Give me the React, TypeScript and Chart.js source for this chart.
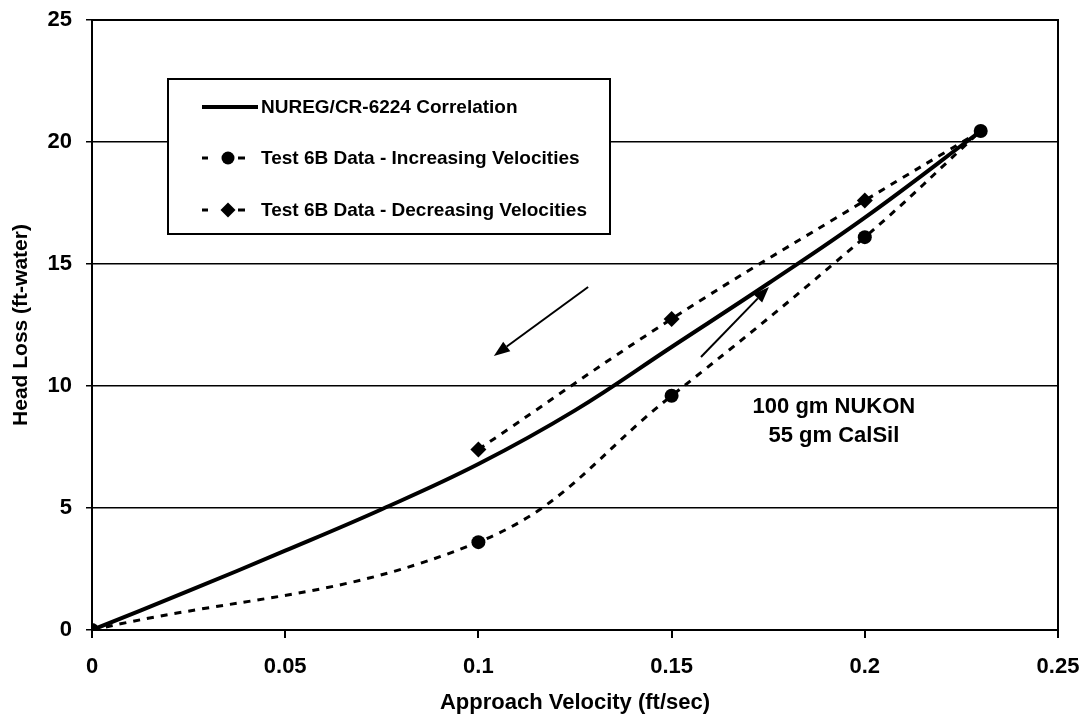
import React, { useEffect, useRef } from "react";
import { Chart, registerables } from "chart.js";

Chart.register(...registerables);

const FONT = "'Liberation Sans', Arial, Helvetica, sans-serif";

// ---- data ----
const xTickLabels = ["0", "0.05", "0.1", "0.15", "0.2", "0.25"];
const yTickLabels = ["0", "5", "10", "15", "20", "25"];

const velocityCorrelation = [0, 0.025, 0.05, 0.075, 0.1, 0.125, 0.15, 0.175, 0.2, 0.23];
const headLossCorrelation = [0, 1.6, 3.25, 4.95, 6.8, 9.0, 11.6, 14.2, 16.9, 20.45];

const velocityIncreasing = [0, 0.1, 0.15, 0.2, 0.23];
const headLossIncreasing = [0, 3.6, 9.6, 16.1, 20.45];

const velocityDecreasing = [0.23, 0.2, 0.15, 0.1];
const headLossDecreasing = [20.45, 17.6, 12.75, 7.4];

const seriesNames = [
  "NUREG/CR-6224 Correlation",
  "Test 6B Data - Increasing Velocities",
  "Test 6B Data - Decreasing Velocities",
];

const annotationLines = ["100 gm NUKON", "55 gm CalSil"];
const annotationAnchor = { x: 0.192, y: 9.15 }; // data units, first line centre

// arrows: [tailX, tailY, tipX, tipY] in data units
const arrowDecreasing = [0.1284, 14.06, 0.104, 11.23];
const arrowIncreasing = [0.1576, 11.19, 0.1752, 14.06];

const xAxisTitle = "Approach Velocity (ft/sec)";
const yAxisTitle = "Head Loss (ft-water)";

const toPoints = (xs: number[], ys: number[]) => xs.map((x, i) => ({ x, y: ys[i] }));

const framePlugin = {
  id: "frame",
  afterDraw(chart: any) {
    const { ctx, chartArea } = chart;
    ctx.save();
    ctx.strokeStyle = "#000";
    ctx.lineWidth = 2;
    ctx.strokeRect(chartArea.left, chartArea.top, chartArea.right - chartArea.left, chartArea.bottom - chartArea.top);
    ctx.restore();
  },
};

function drawArrow(ctx: CanvasRenderingContext2D, x1: number, y1: number, x2: number, y2: number) {
  const ang = Math.atan2(y2 - y1, x2 - x1);
  const headLen = 16;
  const headHalf = 6;
  const bx = x2 - headLen * Math.cos(ang);
  const by = y2 - headLen * Math.sin(ang);
  ctx.beginPath();
  ctx.moveTo(x1, y1);
  ctx.lineTo(bx, by);
  ctx.lineWidth = 2;
  ctx.strokeStyle = "#000";
  ctx.stroke();
  ctx.beginPath();
  ctx.moveTo(x2, y2);
  ctx.lineTo(bx + headHalf * Math.sin(ang), by - headHalf * Math.cos(ang));
  ctx.lineTo(bx - headHalf * Math.sin(ang), by + headHalf * Math.cos(ang));
  ctx.closePath();
  ctx.fillStyle = "#000";
  ctx.fill();
}

const annotationPlugin = {
  id: "annotations",
  afterDatasetsDraw(chart: any) {
    const { ctx, scales } = chart;
    const xs = scales.x;
    const ys = scales.y;
    ctx.save();
    for (const a of [arrowDecreasing, arrowIncreasing]) {
      drawArrow(ctx, xs.getPixelForValue(a[0]), ys.getPixelForValue(a[1]), xs.getPixelForValue(a[2]), ys.getPixelForValue(a[3]));
    }
    ctx.fillStyle = "#000";
    ctx.font = `bold 22px ${FONT}`;
    ctx.textAlign = "center";
    ctx.textBaseline = "middle";
    const cx = xs.getPixelForValue(annotationAnchor.x);
    const cy = ys.getPixelForValue(annotationAnchor.y);
    annotationLines.forEach((t, i) => ctx.fillText(t, cx, cy + i * 29));
    ctx.restore();
  },
};

const legendPlugin = {
  id: "customLegend",
  afterDraw(chart: any) {
    const { ctx, chartArea } = chart;
    const left = chartArea.left + 76;
    const top = chartArea.top + 59;
    const width = 442;
    const height = 155;
    ctx.save();
    ctx.fillStyle = "#fff";
    ctx.fillRect(left, top, width, height);
    ctx.strokeStyle = "#000";
    ctx.lineWidth = 2;
    ctx.strokeRect(left, top, width, height);

    const rowY = [top + 28, top + 79, top + 131];
    const sx = left + 34;
    const textX = left + 93;

    // solid sample
    ctx.beginPath();
    ctx.moveTo(sx, rowY[0]);
    ctx.lineTo(sx + 56, rowY[0]);
    ctx.lineWidth = 4;
    ctx.stroke();

    // dashed samples with markers
    for (let r = 1; r <= 2; r++) {
      const y = rowY[r];
      ctx.lineWidth = 3;
      ctx.beginPath();
      ctx.moveTo(sx, y);
      ctx.lineTo(sx + 6, y);
      ctx.moveTo(sx + 36, y);
      ctx.lineTo(sx + 43, y);
      ctx.stroke();
      ctx.fillStyle = "#000";
      const mx = sx + 26;
      ctx.beginPath();
      if (r === 1) {
        ctx.arc(mx, y, 6.5, 0, Math.PI * 2);
      } else {
        ctx.moveTo(mx, y - 7.5);
        ctx.lineTo(mx + 7.5, y);
        ctx.lineTo(mx, y + 7.5);
        ctx.lineTo(mx - 7.5, y);
        ctx.closePath();
      }
      ctx.fill();
    }

    ctx.fillStyle = "#000";
    ctx.font = `bold 19px ${FONT}`;
    ctx.textAlign = "left";
    ctx.textBaseline = "middle";
    seriesNames.forEach((t, i) => ctx.fillText(t, textX, rowY[i] + 1));
    ctx.restore();
  },
};

export default function App() {
  const canvasRef = useRef<HTMLCanvasElement | null>(null);

  useEffect(() => {
    const canvas = canvasRef.current;
    if (!canvas) return;
    const chart = new Chart(canvas, {
      type: "scatter",
      data: {
        datasets: [
          {
            label: seriesNames[0],
            data: toPoints(velocityCorrelation, headLossCorrelation),
            showLine: true,
            borderColor: "#000",
            borderWidth: 4,
            tension: 0.4,
            pointRadius: 0,
            pointHoverRadius: 0,
            order: 3,
          },
          {
            label: seriesNames[2],
            data: toPoints(velocityDecreasing, headLossDecreasing),
            showLine: true,
            borderColor: "#000",
            borderWidth: 3,
            borderDash: [7, 7],
            tension: 0.4,
            pointStyle: "rectRot",
            pointRadius: (c: any) => (c.dataIndex === 0 ? 0 : 8),
            pointBackgroundColor: "#000",
            pointBorderColor: "#000",
            pointBorderWidth: 0,
            order: 2,
          },
          {
            label: seriesNames[1],
            data: toPoints(velocityIncreasing, headLossIncreasing),
            showLine: true,
            borderColor: "#000",
            borderWidth: 3,
            borderDash: [7, 7],
            tension: 0.4,
            pointStyle: "circle",
            pointRadius: 7,
            pointBackgroundColor: "#000",
            pointBorderColor: "#000",
            pointBorderWidth: 0,
            order: 1,
          },
        ],
      },
      options: {
        animation: false,
        responsive: false,
        maintainAspectRatio: false,
        layout: { padding: { left: 0, top: 20, right: 27, bottom: 0 } },
        plugins: {
          legend: { display: false },
          tooltip: { enabled: false },
        },
        scales: {
          x: {
            type: "linear",
            min: 0,
            max: 0.25,
            ticks: {
              stepSize: 0.05,
              color: "#000",
              padding: 16,
              font: { family: FONT, size: 22, weight: "bold" },
              callback: (v: any) => xTickLabels[Math.round(Number(v) / 0.05)] ?? "",
            },
            grid: { drawOnChartArea: false, drawTicks: true, tickLength: 8, color: "#000", lineWidth: 2 },
            border: { display: false },
            title: {
              display: true,
              text: xAxisTitle,
              color: "#000",
              font: { family: FONT, size: 22, weight: "bold" },
              padding: { top: 0, bottom: 3 },
            },
            afterFit: (s: any) => {
              s.height = 89;
              s.paddingLeft = 0;
              s.paddingRight = 0;
            },
          },
          y: {
            type: "linear",
            min: 0,
            max: 25,
            ticks: {
              stepSize: 5,
              color: "#000",
              padding: 14,
              font: { family: FONT, size: 22, weight: "bold" },
              callback: (v: any) => yTickLabels[Math.round(Number(v) / 5)] ?? "",
            },
            grid: { drawOnChartArea: true, drawTicks: true, tickLength: 6, color: "#000", lineWidth: 1.5 },
            border: { display: false },
            title: {
              display: true,
              text: yAxisTitle,
              color: "#000",
              font: { family: FONT, size: 21, weight: "bold" },
              padding: { top: 9, bottom: 0 },
            },
            afterFit: (s: any) => {
              s.width = 92;
              s.paddingTop = 0;
              s.paddingBottom = 0;
            },
          },
        },
      },
      plugins: [framePlugin, annotationPlugin, legendPlugin],
    } as any);
    return () => chart.destroy();
  }, []);

  return (
    <div style={{ position: "absolute", left: 0, top: 0, width: 1085, height: 719, background: "#fff" }}>
      <canvas ref={canvasRef} width={1085} height={719} style={{ display: "block", width: 1085, height: 719 }} />
    </div>
  );
}
